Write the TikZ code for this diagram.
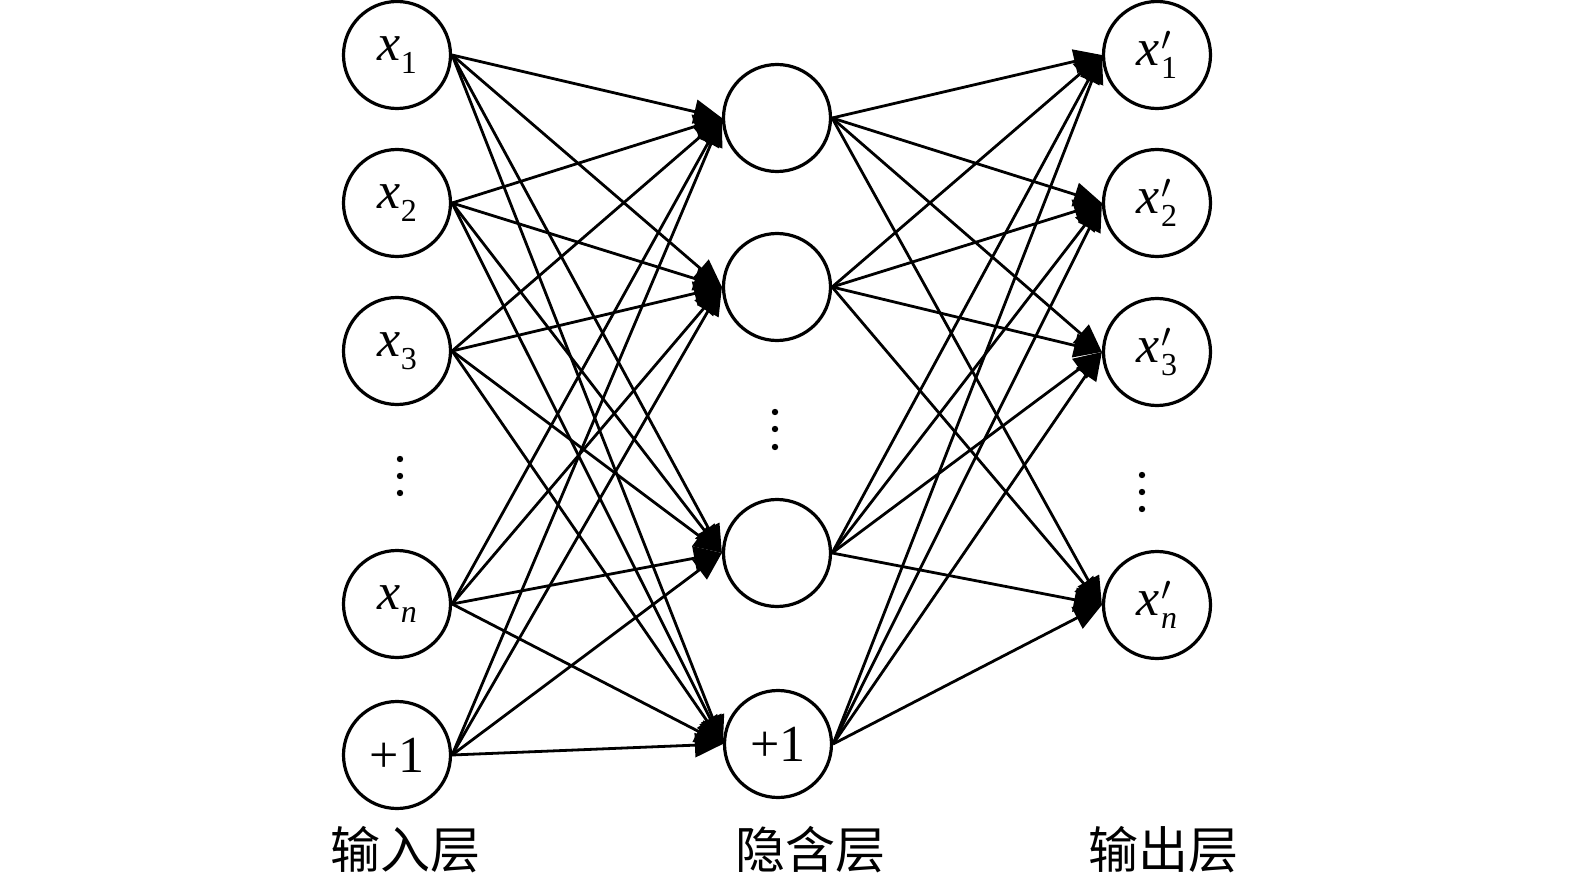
\documentclass[tikz,border=0pt]{standalone}
\usepackage{fontspec}
\setmainfont{Liberation Serif}
\newfontfamily\cjk{Noto Sans CJK SC}
\usetikzlibrary{arrows.meta}
\newcommand{\subsz}{\fontsize{16}{16}\selectfont}
\newcommand{\vx}[1]{\textit{x}\kern0.3pt\raisebox{-0.55ex}{\subsz #1}}
\newcommand{\vxp}[1]{\textit{x}\kern0.6pt\rlap{\raisebox{7.5pt}{\fontsize{16}{16}\selectfont$\prime$}}\raisebox{-0.55ex}{\subsz #1}}
\tikzset{
  neuron/.style={circle, draw, line width=1.6pt, minimum size=53.5pt, inner sep=0pt, font=\fontsize{26}{26}\selectfont},
  conn/.style={line width=1.4pt, -{Triangle[length=14pt,width=12pt]}},
  layerlab/.style={font=\cjk\fontsize{25}{25}\selectfont},
  vdot/.style={circle, fill, inner sep=0pt, minimum size=3.2pt}
}
\begin{document}
\begin{tikzpicture}[x=0.5pt,y=-0.5pt]
\useasboundingbox (0,0) rectangle (1575,877);
% input layer
\node[neuron] (i1) at (397,55) {\vx{1}};
\node[neuron] (i2) at (397,203) {\vx{2}};
\node[neuron] (i3) at (397,351) {\vx{3}};
\node[neuron] (in) at (397,604) {\vx{\textit{n}}};
\node[neuron] (ib) at (397,755) {+1};
% hidden layer
\node[neuron] (h1) at (777,118) {};
\node[neuron] (h2) at (777,287) {};
\node[neuron] (h3) at (777,553) {};
\node[neuron] (hb) at (778,744) {+1};
% output layer
\node[neuron] (o1) at (1157,55) {\vxp{1}};
\node[neuron] (o2) at (1157,203) {\vxp{2}};
\node[neuron] (o3) at (1157,352) {\vxp{3}};
\node[neuron] (on) at (1157,605) {\vxp{\textit{n}}};
% dots
\foreach \y [count=\k] in {459,476,493} \node[vdot] (di\k) at (400,\y) {};
\foreach \y [count=\k] in {412,429,447} \node[vdot] (dh\k) at (775,\y) {};
\foreach \y [count=\k] in {475,492,509} \node[vdot] (do\k) at (1142,\y) {};
% connections
\foreach \a in {i1,i2,i3,in,ib}
  \foreach \b in {h1,h2,h3,hb}
    \draw[conn] (\a.east) -- (\b.west);
\foreach \a in {h1,h2,h3,hb}
  \foreach \b in {o1,o2,o3,on}
    \draw[conn] (\a.east) -- (\b.west);
% labels
\node[layerlab] (l1) at (405,850) {输入层};
\node[layerlab] (l2) at (810,850) {隐含层};
\node[layerlab] (l3) at (1163,850) {输出层};
\end{tikzpicture}
\end{document}
